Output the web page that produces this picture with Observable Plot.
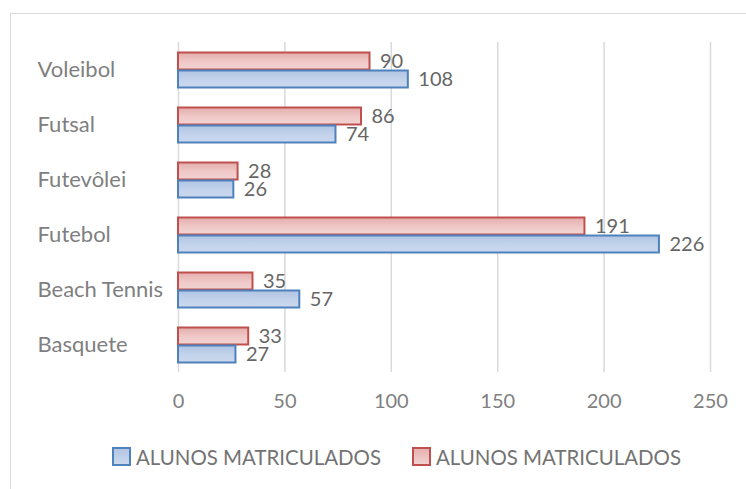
<!DOCTYPE html>
<html>
<head>
<meta charset="utf-8">
<script src="https://cdn.jsdelivr.net/npm/d3@7"></script>
<script src="https://cdn.jsdelivr.net/npm/@observablehq/plot@0.6"></script>
<style>
  html, body { margin: 0; padding: 0; background: #fff; overflow: hidden; }
  body { width: 746px; height: 489px; position: relative; font-family: Lato, "Open Sans", sans-serif; }
  #frame { position: absolute; left: 10px; top: 13px; width: 800px; height: 600px; border: 1px solid #d9d9d9; box-sizing: border-box; }
  #chart { position: absolute; left: 0; top: 0; }
  .legend { position: absolute; top: 447px; height: 19px; display: flex; align-items: center; color: #737373; font-size: 21px; white-space: nowrap; }
  .sw { width: 19px; height: 19px; box-sizing: border-box; border: 2px solid; margin-right: 5px; flex: none; }
  .lt { display: inline-block; transform-origin: 0 50%; }
</style>
</head>
<body>
<div id="frame"></div>
<div id="chart"></div>
<div class="legend" id="lg1" style="left:112px"><div class="sw" style="border-color:#4f81bd;background:linear-gradient(#b3c6e4,#c9d8ee)"></div><span class="lt" id="t1"></span></div>
<div class="legend" id="lg2" style="left:412px"><div class="sw" style="border-color:#c0504d;background:linear-gradient(#e6b1b0,#f1d1d0)"></div><span class="lt" id="t2"></span></div>
<script>
const categories = ["Voleibol", "Futsal", "Futevôlei", "Futebol", "Beach Tennis", "Basquete"];
const valuesRed = [90, 86, 28, 191, 35, 33];
const valuesBlue = [108, 74, 26, 226, 57, 27];
const xTicks = [0, 50, 100, 150, 200, 250];
const seriesNames = ["ALUNOS MATRICULADOS", "ALUNOS MATRICULADOS"];

const rows = categories.flatMap((c, i) => [
  {cat: c, s: "red", v: valuesRed[i]},
  {cat: c, s: "blue", v: valuesBlue[i]}
]);
const redRows = rows.filter(d => d.s === "red");
const blueRows = rows.filter(d => d.s === "blue");

const H = 430;
const chart = Plot.plot({
  width: 746,
  height: H,
  marginTop: 40,
  marginBottom: H - 374,
  marginLeft: 178,
  marginRight: 36,
  style: {fontFamily: "Lato, 'Open Sans', sans-serif", background: "none"},
  x: {domain: [0, 250], axis: null},
  y: {domain: ["red", "blue"], axis: null, paddingInner: 0, paddingOuter: 0.5},
  fy: {domain: categories, padding: 0, axis: null},
  marks: [
    Plot.gridX(xTicks, {stroke: "#d9d9d9", strokeOpacity: 1, strokeWidth: 1.5}),
    Plot.barX(redRows, {fy: "cat", y: "s", x: "v", fill: "url(#gRed)", stroke: "#c0504d", strokeWidth: 2, insetTop: 0.5, insetBottom: 0.5}),
    Plot.barX(blueRows, {fy: "cat", y: "s", x: "v", fill: "url(#gBlue)", stroke: "#4f81bd", strokeWidth: 2, insetTop: 0.5, insetBottom: 0.5}),
    Plot.text(rows, {fy: "cat", y: "s", x: "v", text: d => String(d.v), textAnchor: "start", dx: 10, fontSize: 20, fill: "#666666"}),
    Plot.axisX({ticks: xTicks, tickSize: 0, tickPadding: 21, fontSize: 20, fill: "#808080", label: null}),
    Plot.axisFy({anchor: "left", tickSize: 0, tickPadding: 0, textAnchor: "start", dx: -141, fontSize: 22, fill: "#7f7f7f", label: null})
  ]
});

const svg = d3.select(chart);
const defs = svg.insert("defs", ":first-child");
function grad(id, c0, c1, c2) {
  const g = defs.append("linearGradient").attr("id", id).attr("x1", 0).attr("y1", 0).attr("x2", 0).attr("y2", 1);
  g.append("stop").attr("offset", "0%").attr("stop-color", c0);
  g.append("stop").attr("offset", "55%").attr("stop-color", c1);
  g.append("stop").attr("offset", "100%").attr("stop-color", c2);
}
grad("gRed", "#e4adac", "#efc9c8", "#f2d4d3");
grad("gBlue", "#b0c4e3", "#c3d3eb", "#cbd9ee");

document.getElementById("chart").append(chart);
["t1", "t2"].forEach((id, i) => {
  const el = document.getElementById(id);
  el.textContent = seriesNames[i];
  const w = el.getBoundingClientRect().width;
  if (w > 0) el.style.transform = `scaleX(${245 / w})`;
});
</script>
</body>
</html>
